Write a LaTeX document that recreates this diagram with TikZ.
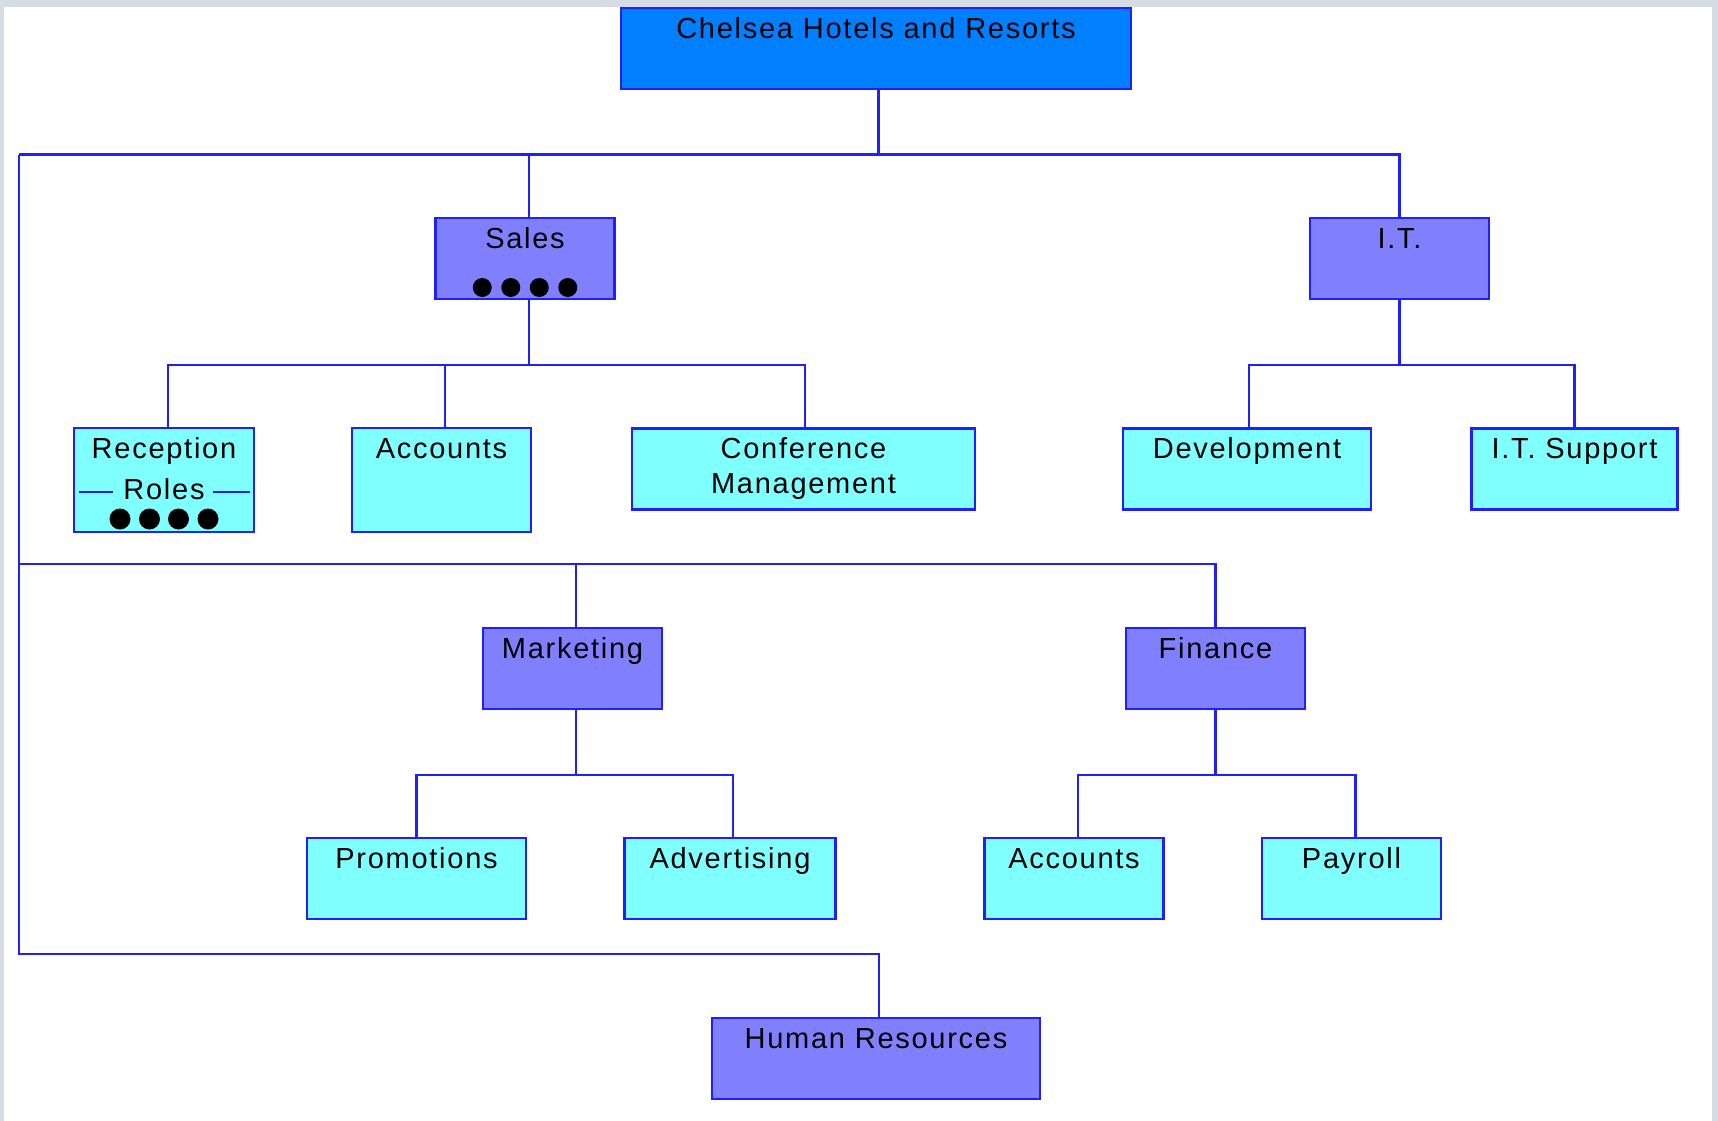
\documentclass[tikz,border=0pt]{standalone}
\usepackage{fontspec}
\setmainfont[LetterSpace=6]{Liberation Sans}
\definecolor{framegray}{RGB}{214,220,228}
\definecolor{lineblue}{RGB}{32,32,255}
\definecolor{headblue}{RGB}{0,128,255}
\definecolor{deptblue}{RGB}{128,128,255}
\definecolor{unitcyan}{RGB}{128,255,255}
\begin{document}
\begin{tikzpicture}[x=1pt,y=-1pt,
  conn/.style={draw=lineblue, line width=2.2pt},
  box/.style={draw=lineblue, line width=2.8pt, rectangle, inner sep=0pt, minimum height=81pt},
  head/.style={box, fill=headblue},
  dept/.style={box, fill=deptblue, minimum width=179pt},
  unit/.style={box, fill=unitcyan},
  caption/.style={anchor=base, yshift=-32pt, font=\fontsize{29}{35}\selectfont, inner sep=0pt, text=black},
  dot/.style={circle, fill=black, inner sep=0pt, minimum size=21pt}]

% page frame
\useasboundingbox (0,0) rectangle (1718,1121);
\fill[framegray] (0,0) rectangle (1718,1121);
\fill[white] (4,7) rectangle (1712,1121);

% boxes
\node[head, minimum width=510pt, label={[caption]north:Chelsea Hotels and Resorts}] (top) at (876,48.5) {};

\node[dept, label={[caption]north:Sales}] (sales) at (525,258.5) {};
\node[dept, label={[caption]north:I.T.}] (it) at (1399.5,258.5) {};

\node[unit, minimum width=180pt, minimum height=104pt,
      label={[caption]north:Reception},
      label={[caption,yshift=-41pt]north:Roles}] (rec) at (164,480) {};
\node[unit, minimum width=179pt, minimum height=104pt, label={[caption]north:Accounts}] (acc) at (441.5,480) {};
\node[unit, minimum width=343pt,
      label={[caption]north:Conference},
      label={[caption,yshift=-35pt]north:Management}] (conf) at (803.5,468.75) {};
\node[unit, minimum width=248pt, label={[caption]north:Development}] (dev) at (1247,468.75) {};
\node[unit, minimum width=206pt, label={[caption]north:I.T. Support}] (its) at (1574.5,468.75) {};

\node[dept, label={[caption]north:Marketing}] (mkt) at (572.5,668.5) {};
\node[dept, label={[caption]north:Finance}] (fin) at (1215.5,668.5) {};

\node[unit, minimum width=219pt, label={[caption]north:Promotions}] (promo) at (416.5,878.5) {};
\node[unit, minimum width=211.5pt, label={[caption]north:Advertising}] (adv) at (730,878.5) {};
\node[unit, minimum width=179pt, label={[caption]north:Accounts}] (facc) at (1074,878.5) {};
\node[unit, minimum width=179pt, label={[caption]north:Payroll}] (pay) at (1351.5,878.5) {};

\node[dept, minimum width=328pt, label={[caption]north:Human Resources}] (hr) at (876,1058.5) {};

% markers inside Sales and Reception
\foreach \i/\dx in {1/-42.75,2/-14.25,3/14.25,4/42.75}
  \node[dot, minimum size=19pt] (sd\i) at ([shift={(\dx,29)}]sales.center) {};
\foreach \i/\dx in {1/-44,2/-14.5,3/14.5,4/44}
  \node[dot] (rd\i) at ([shift={(\dx,39)}]rec.center) {};
\draw[conn] ([shift={(-85,12)}]rec.center) -- ([shift={(-51,12)}]rec.center);
\draw[conn] ([shift={(49,12)}]rec.center) -- ([shift={(86,12)}]rec.center);

% bus coordinates
\coordinate (busA) at (18.6,154.5);
\coordinate (busB) at (18.6,564);
\coordinate (busC) at (18.6,954);
\coordinate (sbus) at (0,365);
\coordinate (ibus) at (0,365);
\coordinate (mbus) at (0,774.6);
\coordinate (fbus) at (0,774.6);

% top level
\draw[conn] ([xshift=2.5pt]top.south) -- ([xshift=2.5pt]top.south |- busA);
\draw[conn] (busA) -- (it.north |- busA) -- (it.north);
\draw[conn] ([xshift=4pt]sales.north |- busA) -- ([xshift=4pt]sales.north);
\draw[conn] (busA) -- (busC) -- ([xshift=3pt]hr.north |- busC) -- ([xshift=3pt]hr.north);
\draw[conn] (busB) -- (fin.north |- busB) -- (fin.north);
\draw[conn] ([xshift=3.5pt]mkt.north |- busB) -- ([xshift=3.5pt]mkt.north);

% Sales
\draw[conn] ([xshift=4pt]sales.south) -- ([xshift=4pt]sales.south |- sbus);
\draw[conn] ([xshift=4pt]rec.north) -- ([xshift=4pt]rec.north |- sbus) -- ([xshift=1.5pt]conf.north |- sbus) -- ([xshift=1.5pt]conf.north);
\draw[conn] ([xshift=3.5pt]acc.north) -- ([xshift=3.5pt]acc.north |- sbus);

% I.T.
\draw[conn] (it.south) -- (it.south |- ibus);
\draw[conn] ([xshift=2pt]dev.north) -- ([xshift=2pt]dev.north |- ibus) -- (its.north |- ibus) -- (its.north);

% Marketing
\draw[conn] ([xshift=3.5pt]mkt.south) -- ([xshift=3.5pt]mkt.south |- mbus);
\draw[conn] (promo.north) -- (promo.north |- mbus) -- ([xshift=3pt]adv.north |- mbus) -- ([xshift=3pt]adv.north);

% Finance
\draw[conn] (fin.south) -- (fin.south |- fbus);
\draw[conn] ([xshift=4pt]facc.north) -- ([xshift=4pt]facc.north |- fbus) -- ([xshift=4pt]pay.north |- fbus) -- ([xshift=4pt]pay.north);
\end{tikzpicture}
\end{document}
